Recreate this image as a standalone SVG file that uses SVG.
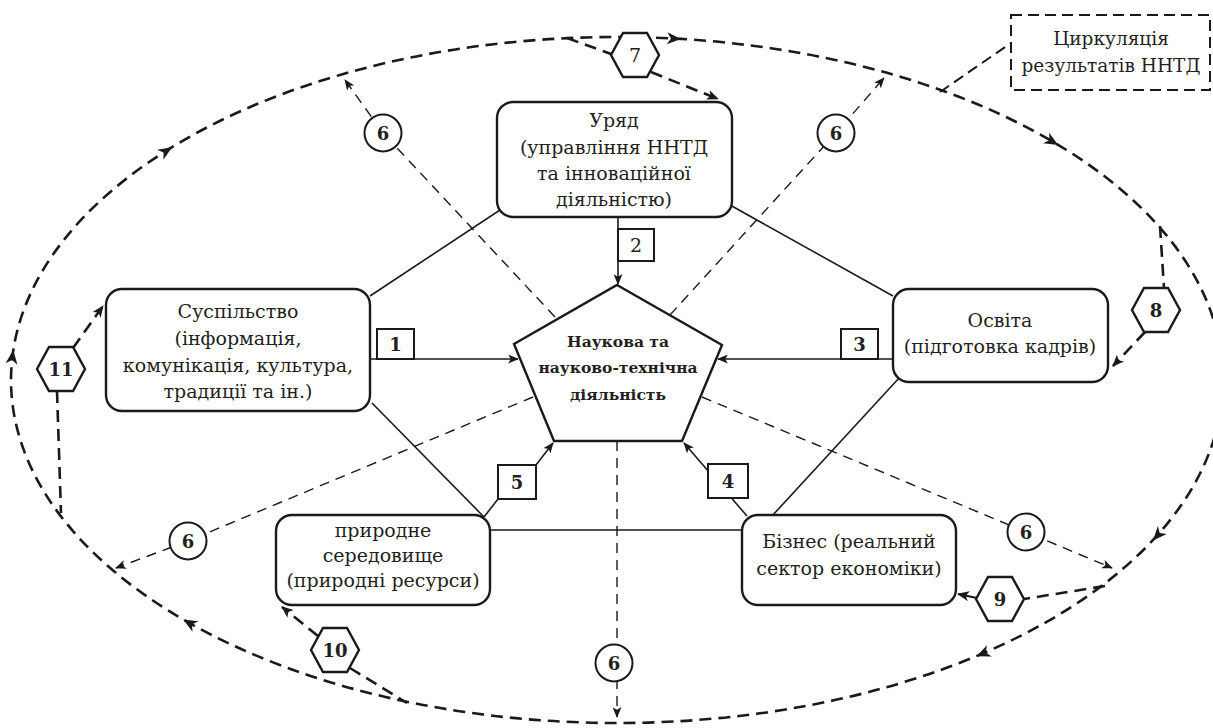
<svg xmlns="http://www.w3.org/2000/svg" width="1213" height="728" viewBox="0 0 1213 728" font-family="DejaVu Serif, serif">
<style>
.bg{fill:#fff}
.box{fill:#fff;stroke:#1a1a1a;stroke-width:2.4}
.sq{fill:#fff;stroke:#1a1a1a;stroke-width:2}
.ln{fill:none;stroke:#1a1a1a;stroke-width:1.6}
.dl{fill:none;stroke:#1a1a1a;stroke-width:1.4;stroke-dasharray:10 7}
.dk{fill:none;stroke:#1a1a1a;stroke-width:2.6;stroke-dasharray:12 7}
.lbl{fill:none;stroke:#1a1a1a;stroke-width:2;stroke-dasharray:11 6}
.hx{fill:#fff;stroke:#1a1a1a;stroke-width:2.4}
.ci{fill:#fff;stroke:#1a1a1a;stroke-width:2}
text{fill:#231f20;text-anchor:middle}
.t{font-size:19px}
.tl{font-size:18.5px}
.tb{font-size:15.5px;font-weight:bold}
.n{font-size:18px;font-weight:bold}
.nr{font-size:19px}
.ah{fill:#1a1a1a}
</style>
<defs>
<marker id="a" viewBox="0 0 12 10" refX="11" refY="5" markerWidth="12" markerHeight="10" markerUnits="userSpaceOnUse" orient="auto"><path d="M0,0 L12,5 L0,10 L3,5 z" fill="#1a1a1a"/></marker>
<marker id="as" viewBox="0 0 12 10" refX="11" refY="5" markerWidth="11" markerHeight="9" markerUnits="userSpaceOnUse" orient="auto"><path d="M0,0 L12,5 L0,10 L3,5 z" fill="#1a1a1a"/></marker>
<path id="ah" d="M6,0 L-8,-6 L-4,0 L-8,6 z"/>
<polygon id="hex" points="-24,0 -12,-22 12,-22 24,0 12,22 -12,22"/>
</defs>
<rect class="bg" x="0" y="0" width="1213" height="728"/>

<g id="connectors">
  <ellipse class="dk" cx="617" cy="380" rx="606" ry="343"/>
  <g class="ah">
    <use href="#ah" transform="translate(675,38.6) rotate(3)"/>
    <use href="#ah" transform="translate(1053,142) rotate(30.4)"/>
    <use href="#ah" transform="translate(1157,536) rotate(132)"/>
    <use href="#ah" transform="translate(982,654) rotate(157)"/>
    <use href="#ah" transform="translate(188.5,622.5) rotate(209.5)"/>
    <use href="#ah" transform="translate(12.5,356) rotate(-83)"/>
    <use href="#ah" transform="translate(167,150.5) rotate(-32)"/>
  </g>
  <path class="lbl" d="M940,92 L1011,43"/>

  <path class="ln" d="M500,210 L370,296"/>
  <path class="ln" d="M730,205 L893,296"/>
  <path class="ln" d="M372,403 L484,517"/>
  <path class="ln" d="M900,377 L772,516"/>
  <path class="ln" d="M490,530 L742,530"/>

  <path class="ln" d="M370,359 L518,359" marker-end="url(#as)"/>
  <path class="ln" d="M618,217 L618,284" marker-end="url(#as)"/>
  <path class="ln" d="M893,359 L718,359" marker-end="url(#as)"/>
  <path class="ln" d="M747,516 L684,443" marker-end="url(#as)"/>
  <path class="ln" d="M484,517 L498,499"/>
  <path class="ln" d="M536,465 L553,443" marker-end="url(#as)"/>

  <path class="dl" d="M555,317 L383,133 L345,80" marker-end="url(#as)"/>
  <path class="dl" d="M670,315 L836,133 L884,78" marker-end="url(#as)"/>
  <path class="dl" d="M533,397 L188,541 L116,568" marker-end="url(#as)"/>
  <path class="dl" d="M702,397 L1026,532 L1112,568" marker-end="url(#as)"/>
  <path class="dl" d="M617,441 L617,717" marker-end="url(#as)"/>

  <path class="dk" d="M567,38 L611,54"/>
  <path class="dk" d="M651,72 L718,99" marker-end="url(#a)"/>
  <path class="dk" d="M1160,226 L1164,288"/>
  <path class="dk" d="M1145,332 L1113,366" marker-end="url(#a)"/>
  <path class="dk" d="M1105,586 L1024,599"/>
  <path class="ln" style="stroke-width:2.2" d="M977,598 L958,594" marker-end="url(#a)"/>
  <path class="dk" d="M350,668 L407,703"/>
  <path class="dk" d="M318,636 L282,607" marker-end="url(#a)"/>
  <path class="dk" d="M57,391 L61,513"/>
  <path class="dk" d="M73,348 L103,306" marker-end="url(#a)"/>
</g>

<g id="node-label">
  <rect class="lbl" x="1011" y="15" width="199" height="75"/>
  <text class="tl" x="1111" y="45">Циркуляція</text>
  <text class="tl" x="1111" y="72">результатів ННТД</text>
</g>

<g id="node-uryad">
  <rect class="box" x="497" y="102" width="235" height="115" rx="16"/>
  <text class="t" x="614" y="127">Уряд</text>
  <text class="t" x="614" y="154">(управління ННТД</text>
  <text class="t" x="614" y="180">та інноваційної</text>
  <text class="t" x="614" y="206">діяльністю)</text>
</g>

<g id="node-suspilstvo">
  <rect class="box" x="106" y="289" width="264" height="122" rx="16"/>
  <text class="t" x="238" y="318">Суспільство</text>
  <text class="t" x="238" y="345">(інформація,</text>
  <text class="t" x="238" y="372">комунікація, культура,</text>
  <text class="t" x="238" y="398">традиції та ін.)</text>
</g>

<g id="node-osvita">
  <rect class="box" x="893" y="289" width="215" height="93" rx="16"/>
  <text class="t" x="1000" y="327">Освіта</text>
  <text class="t" x="1000" y="353">(підготовка кадрів)</text>
</g>

<g id="node-pryroda">
  <rect class="box" x="276" y="515" width="214" height="90" rx="16"/>
  <text class="t" x="383" y="537">природне</text>
  <text class="t" x="383" y="562">середовище</text>
  <text class="t" x="383" y="587">(природні ресурси)</text>
</g>

<g id="node-biznes">
  <rect class="box" x="742" y="515" width="214" height="90" rx="16"/>
  <text class="t" x="849" y="548">Бізнес (реальний</text>
  <text class="t" x="849" y="575">сектор економіки)</text>
</g>

<g id="node-center">
  <polygon class="box" points="617,285 722,345 682,441 554,441 514,344"/>
  <text class="tb" x="618" y="347">Наукова та</text>
  <text class="tb" x="618" y="373">науково-технічна</text>
  <text class="tb" x="618" y="400">діяльність</text>
</g>

<g id="sq1"><rect class="sq" x="377" y="329" width="37" height="30"/><text class="n" x="395.5" y="351">1</text></g>
<g id="sq2"><rect class="sq" x="618" y="229" width="36" height="32"/><text class="nr" x="636" y="252">2</text></g>
<g id="sq3"><rect class="sq" x="841" y="329" width="37" height="30"/><text class="n" x="859.5" y="351">3</text></g>
<g id="sq4"><rect class="sq" x="708" y="464" width="40" height="34"/><text class="n" x="728" y="488">4</text></g>
<g id="sq5"><rect class="sq" x="498" y="465" width="38" height="34"/><text class="n" x="517" y="489">5</text></g>

<g id="c6-tl"><circle class="ci" cx="383" cy="133" r="18.5"/><text class="n" x="383" y="140">6</text></g>
<g id="c6-tr"><circle class="ci" cx="836" cy="133" r="18.5"/><text class="n" x="836" y="140">6</text></g>
<g id="c6-l"><circle class="ci" cx="188" cy="541" r="18.5"/><text class="n" x="188" y="548">6</text></g>
<g id="c6-b"><circle class="ci" cx="614" cy="663" r="18.5"/><text class="n" x="614" y="670">6</text></g>
<g id="c6-r"><circle class="ci" cx="1026" cy="532" r="18.5"/><text class="n" x="1026" y="539">6</text></g>

<g id="h7"><use href="#hex" class="hx" transform="translate(635,55)"/><text class="nr" x="635" y="62">7</text></g>
<g id="h8"><use href="#hex" class="hx" transform="translate(1156,310)"/><text class="n" x="1156" y="317">8</text></g>
<g id="h9"><use href="#hex" class="hx" transform="translate(1000,599)"/><text class="n" x="1000" y="606">9</text></g>
<g id="h10"><use href="#hex" class="hx" transform="translate(335,650)"/><text class="n" x="335" y="657">10</text></g>
<g id="h11"><use href="#hex" class="hx" transform="translate(61,369)"/><text class="n" x="61" y="376">11</text></g>
</svg>
